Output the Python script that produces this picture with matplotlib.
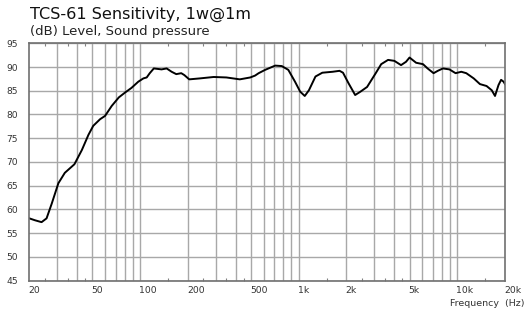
import matplotlib
matplotlib.use("Agg")
import matplotlib.pyplot as plt
import matplotlib.transforms as mtransforms

# frequency response (Hz, dB SPL)
freq = [20, 21.7, 23.9, 25.7, 27.7, 30.5, 33.5, 38.5, 42.9, 47.2, 50.6, 55.9,
        60.1, 66.2, 73.4, 80.2, 88.2, 97.3, 104.8, 110, 115, 122, 136.5, 147,
        158, 169, 181.7, 190, 204, 238, 291, 350, 425, 495, 531, 559, 614,
        711, 782, 860, 948, 1022, 1092, 1160, 1276, 1409, 1637, 1810, 1903,
        2060, 2270, 2450, 2700, 3060, 3313, 3660, 4010, 4420, 4750, 5000, 5500,
        6080, 6500, 7090, 7540, 8120, 8920, 9760, 10600, 11400, 12700, 13900,
        15300, 16500, 17300, 18200, 18900, 19600, 20000]
spl = [58.1, 57.7, 57.3, 58.1, 61.2, 65.5, 67.7, 69.5, 72.5, 75.7, 77.6, 79.0,
       79.7, 81.8, 83.6, 84.6, 85.6, 86.9, 87.6, 87.8, 88.7, 89.7, 89.5, 89.7,
       89.0, 88.5, 88.7, 88.3, 87.4, 87.6, 87.9, 87.8, 87.4, 87.8, 88.2, 88.7,
       89.4, 90.3, 90.2, 89.4, 86.9, 84.8, 83.9, 85.1, 88.0, 88.8, 89.0, 89.2,
       88.8, 86.6, 84.1, 84.8, 85.8, 88.7, 90.6, 91.5, 91.3, 90.4, 91.1, 92.0,
       90.9, 90.6, 89.7, 88.7, 89.2, 89.7, 89.5, 88.7, 89.0, 88.7, 87.6, 86.4,
       86.0, 85.1, 83.9, 86.2, 87.3, 86.9, 86.4]

grid_freqs = [30, 40, 50, 60, 70, 80, 90, 100, 200, 300, 400, 500, 600, 700,
              800, 900, 1000, 2000, 3000, 4000, 5000, 6000, 7000, 8000, 9000,
              10000]
minor_freqs = [25, 35, 45, 150, 250, 350, 450, 1500, 2500, 3500, 4500, 15000]
label_freqs = [20, 50, 100, 200, 500, 1000, 2000, 5000, 10000, 20000]
label_texts = ["20", "50", "100", "200", "500", "1k", "2k", "5k", "10k", "20k"]
db_ticks = [45, 50, 55, 60, 65, 70, 75, 80, 85, 90, 95]

W, H = 526, 311
fig = plt.figure(figsize=(W / 100, H / 100), dpi=100)
left, right, top, bottom = 29.3, 505, 43.3, 280.5
ax = fig.add_axes([left / W, 1 - bottom / H, (right - left) / W, (bottom - top) / H])

ax.plot(freq, spl, color="black", lw=1.4, solid_joinstyle="round")

ax.set_xscale("log")
ax.set_xlim(20, 20000)
ax.set_ylim(45, 95)

ax.set_xticks(grid_freqs)
ax.set_xticklabels([])
ax.set_xticks(minor_freqs, minor=True)
ax.tick_params(axis="x", which="major", length=0)
ax.tick_params(axis="x", which="minor", direction="in", length=2.5, width=0.8,
               color="#808080", top=True, labelbottom=False)
ax.set_yticks(db_ticks)
ax.tick_params(axis="y", which="major", length=0, pad=8, labelsize=6.6,
               labelcolor="#333333")
ax.grid(True, which="major", color="#a8a8a8", lw=1.0)
ax.set_axisbelow(True)

for s in ax.spines.values():
    s.set_color("#707070")
    s.set_linewidth(1.2)

# x labels sit left-aligned at their frequency
trans = mtransforms.blended_transform_factory(ax.transData, ax.transAxes)
offset = mtransforms.ScaledTranslation(-1.0 / 100, 0, fig.dpi_scale_trans)
for f, t in zip(label_freqs, label_texts):
    ax.text(f, -0.025, t, transform=trans + offset, ha="left", va="top",
            fontsize=6.7, color="#333333")

fig.text(30 / W, 1 - 18.5 / H, "TCS-61 Sensitivity, 1w@1m", fontsize=11.6,
         color="#111111", ha="left", va="baseline")
fig.text(29.5 / W, 1 - 35 / H, "(dB) Level, Sound pressure", fontsize=9.5,
         color="#222222", ha="left", va="baseline")
fig.text(525 / W, 1 - 306 / H, "Frequency  (Hz)", fontsize=6.8,
         color="#333333", ha="right", va="baseline")

fig.savefig("out.png", dpi=100)
